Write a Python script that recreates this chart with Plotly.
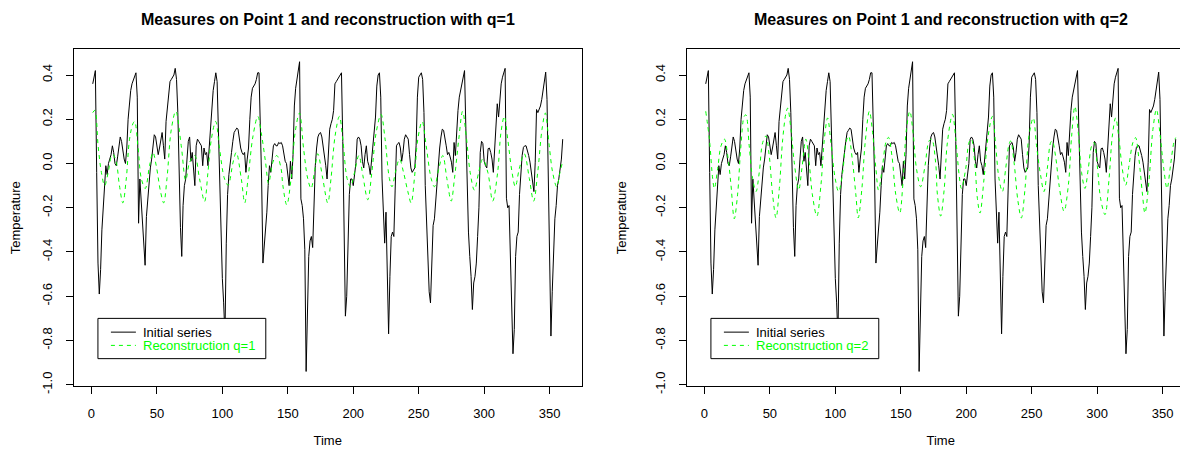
import plotly.graph_objects as go

# ---------------- data ----------------
TIME = list(range(1, 361))

BLACK_Y = [
    0.36, 0.40, 0.42, -0.04, -0.45, -0.59, -0.48, -0.30, -0.20, -0.10,
    -0.01, -0.05, 0.00, 0.02, 0.04, 0.08, 0.05, 0.00, -0.01, 0.03,
    0.08, 0.12, 0.10, 0.05, 0.02, 0.00, 0.07, 0.20, 0.29, 0.33,
    0.36, 0.38, 0.39, 0.41, 0.30, -0.27, -0.07, -0.18, -0.29, -0.36,
    -0.46, -0.24, -0.16, -0.07, -0.02, 0.02, 0.07, 0.13, 0.12, 0.08,
    0.04, 0.07, 0.11, 0.14, 0.08, 0.02, 0.19, 0.25, 0.32, 0.37,
    0.38, 0.39, 0.40, 0.43, 0.38, 0.23, -0.10, -0.29, -0.42, -0.19,
    -0.10, -0.07, 0.02, 0.10, 0.12, 0.01, 0.05, -0.01, -0.10, 0.08,
    0.11, 0.10, 0.09, 0.08, -0.01, 0.07, 0.04, 0.05, -0.01, 0.08,
    0.19, 0.27, 0.33, 0.37, 0.41, 0.37, 0.15, -0.19, -0.42, -0.52,
    -0.63, -0.78, -0.36, -0.14, -0.05, -0.01, 0.05, 0.10, 0.14, 0.15,
    0.16, 0.155, 0.11, 0.07, 0.05, 0.04, 0.05, -0.04, 0.02, 0.07,
    0.20, 0.30, 0.34, 0.35, 0.36, 0.38, 0.41, 0.41, 0.20, -0.07,
    -0.45, -0.38, -0.30, -0.22, -0.10, -0.01, -0.04, 0.03, 0.08, 0.09,
    0.08, 0.08, 0.095, 0.09, 0.095, 0.08, 0.04, 0.01, 0.00, -0.04,
    -0.10, 0.01, -0.07, 0.04, 0.26, 0.34, 0.38, 0.41, 0.46, -0.16,
    -0.19, -0.25, -0.39, -0.94, -0.73, -0.42, -0.35, -0.33, -0.38, -0.14,
    -0.01, 0.07, 0.12, 0.135, 0.14, 0.12, 0.08, 0.02, -0.01, -0.07,
    0.05, 0.155, 0.18, 0.20, 0.24, 0.36, 0.37, 0.38, 0.39, 0.40,
    0.41, 0.10, -0.44, -0.69, -0.60, -0.39, -0.14, -0.07, -0.07, -0.10,
    -0.06, 0.00, 0.11, 0.12, 0.11, 0.08, 0.01, -0.02, 0.04, 0.08,
    0.01, -0.01, -0.05, 0.02, 0.095, 0.15, 0.21, 0.35, 0.40, 0.41,
    0.30, -0.07, -0.20, -0.36, -0.22, -0.45, -0.77, -0.51, -0.33, -0.31,
    -0.33, -0.12, 0.08, 0.09, 0.095, 0.07, 0.01, 0.05, 0.11, 0.13,
    0.12, 0.11, 0.04, -0.02, -0.04, -0.03, -0.02, 0.08, 0.30, 0.39,
    0.40, 0.41, 0.38, 0.23, -0.10, -0.25, -0.45, -0.58, -0.63, -0.40,
    -0.28, -0.25, -0.16, -0.06, 0.01, 0.07, 0.12, 0.155, 0.15, 0.12,
    0.08, 0.04, 0.05, 0.03, 0.006, -0.04, 0.095, 0.036, 0.155, 0.24,
    0.30, 0.33, 0.37, 0.40, 0.42, 0.16, -0.14, -0.31, -0.42, -0.51,
    -0.66, -0.54, -0.51, -0.45, -0.33, -0.20, 0.05, 0.10, 0.09, 0.01,
    -0.01, -0.02, 0.067, 0.07, 0.05, 0.02, -0.04, 0.05, 0.155, 0.27,
    0.21, 0.30, 0.36, 0.39, 0.41, 0.43, -0.157, -0.20, -0.19, -0.44,
    -0.66, -0.86, -0.75, -0.42, -0.33, -0.31, -0.14, -0.04, 0.036, 0.073,
    0.08, 0.08, 0.06, 0.036, 0.006, -0.04, -0.10, -0.127, 0.006, 0.244,
    0.23, 0.244, 0.26, 0.29, 0.33, 0.376, 0.413, 0.29, -0.07, -0.51,
    -0.78, -0.58, -0.39, -0.25, -0.19, -0.10, -0.07, -0.02, 0.02, 0.11,
]

Q1_T = [1.0, 2.6, 5.1, 7.6, 10.1, 12.8, 15.4, 16.6, 19.0, 21.4, 24.0, 26.6, 29.1, 31.7, 33.0,
        35.5, 38.1, 41.1, 44.4, 47.0, 49.5, 52.8, 55.2, 57.7, 61.0, 64.4, 68.6, 72.0, 75.0,
        78.8, 82.6, 86.4, 89.0, 91.6, 94.9, 97.9, 101.7, 104.4, 108.2, 110.6, 114.5, 117.1,
        119.6, 123.4, 127.1, 129.7, 133.0, 135.3, 138.6, 141.6, 144.9, 146.2, 149.2, 152.5,
        155.6, 158.9, 162.1, 165.2, 167.8, 170.3, 172.9, 176.7, 180.5, 183.0, 186.1, 189.4,
        192.0, 195.3, 197.9, 201.0, 204.3, 207.3, 211.1, 214.2, 217.5, 221.2, 224.3, 227.6,
        229.6, 232.2, 235.3, 238.4, 241.7, 244.2, 246.7, 249.3, 252.6, 255.7, 259.5, 262.0,
        265.3, 268.4, 271.5, 274.8, 277.3, 280.6, 283.5, 286.3, 289.3, 292.5, 295.8, 298.9,
        302.8, 306.5, 310.3, 312.8, 315.4, 318.0, 321.3, 323.8, 326.8, 330.6, 334.5, 337.8,
        340.9, 344.2, 346.7, 349.7, 352.3, 355.4, 357.9, 360.0]
Q1_Y = [0.23, 0.24, 0.08, -0.04, -0.10, -0.04, 0.036, 0.04, 0.006, -0.10, -0.178, -0.07, 0.11, 0.18, 0.19,
        0.08, -0.068, -0.113, -0.01, 0.05, -0.01, -0.127, -0.178, -0.068, 0.154, 0.236, 0.08, -0.076, 0.006,
        0.036, -0.07, -0.172, -0.04, 0.11, 0.19, 0.065, -0.07, -0.098, 0.006, 0.05, -0.07, -0.178,
        -0.07, 0.124, 0.213, 0.139, 0.006, -0.09, 0.006, 0.036, -0.024, -0.098, -0.187, -0.068,
        0.14, 0.228, 0.065, -0.068, -0.113, -0.04, 0.044, -0.068, -0.178, -0.068, 0.124, 0.213,
        0.11, -0.068, -0.105, -0.04, 0.036, -0.053, -0.164, -0.04, 0.14, 0.222, 0.11, -0.068,
        -0.105, -0.04, 0.02, -0.04, -0.127, -0.178, -0.068, 0.11, 0.19, 0.08, -0.068, -0.105,
        -0.024, 0.036, -0.068, -0.17, -0.068, 0.11, 0.236, 0.124, -0.04, -0.12, -0.04, 0.02,
        -0.04, -0.17, -0.04, 0.139, 0.213, 0.11, -0.04, -0.105, -0.024, 0.044, -0.068, -0.17,
        -0.04, 0.155, 0.228, 0.08, -0.04, -0.105, -0.04, 0.01]

Q2_T = [1.0, 3.8, 6.3, 7.6, 10.1, 12.7, 15.3, 17.8, 20.3, 22.8, 25.3, 27.9, 30.4, 31.7, 34.2,
        36.8, 39.4, 41.9, 44.5, 47.0, 49.5, 52.1, 54.7, 57.2, 59.8, 62.3, 63.6, 66.1, 68.6,
        72.0, 74.5, 77.5, 80.0, 82.5, 85.9, 89.0, 91.6, 94.1, 96.6, 99.9, 102.5, 105.6, 108.1,
        110.1, 113.2, 115.7, 117.5, 120.3, 122.8, 126.0, 128.5, 131.0, 133.0, 136.1, 138.6,
        140.6, 143.2, 146.2, 149.2, 151.7, 154.3, 156.9, 159.4, 162.0, 165.2, 168.5, 171.6,
        173.6, 176.6, 178.0, 180.5, 183.1, 185.6, 189.5, 192.0, 194.6, 196.3, 199.6, 202.1,
        203.9, 206.5, 208.5, 210.5, 213.6, 216.7, 220.0, 222.5, 225.0, 227.6, 230.1, 232.7,
        234.0, 236.5, 239.5, 242.1, 244.9, 247.9, 251.2, 253.7, 256.8, 259.4, 261.9, 264.5,
        265.7, 268.3, 270.9, 274.7, 278.0, 280.5, 283.0, 285.6, 288.1, 290.7, 293.2, 295.8,
        297.6, 300.1, 302.6, 306.0, 309.1, 311.6, 314.1, 316.7, 319.2, 321.8, 324.3, 327.3,
        329.3, 331.9, 334.4, 336.5, 339.5, 342.6, 345.3, 347.9, 350.9, 353.4, 356.0, 358.6, 360.0]
Q2_Y = [0.236, 0.11, -0.068, -0.113, -0.024, 0.08, 0.11, 0.036, -0.098, -0.25, -0.142, 0.08, 0.213, 0.22, 0.08,
        -0.068, -0.127, -0.04, 0.095, 0.124, 0.036, -0.142, -0.246, -0.113, 0.11, 0.228, 0.25, 0.154, 0.006,
        -0.12, -0.02, 0.11, 0.006, -0.142, -0.238, -0.098, 0.11, 0.206, 0.095, -0.068, -0.127, -0.04, 0.095,
        0.124, 0.006, -0.142, -0.246, -0.113, 0.095, 0.236, 0.139, -0.024, -0.12, -0.01, 0.095,
        0.118, 0.036, -0.142, -0.224, -0.083, 0.154, 0.236, 0.139, -0.024, -0.105, -0.01, 0.102,
        0.11, 0.006, -0.142, -0.238, -0.12, 0.095, 0.222, 0.11, -0.053, -0.113, -0.024, 0.095,
        0.11, 0.006, -0.157, -0.224, -0.068, 0.124, 0.213, 0.08, -0.068, -0.127, -0.024, 0.087,
        0.102, 0.006, -0.17, -0.246, -0.113, 0.124, 0.206, 0.08, -0.053, -0.127, -0.024, 0.095,
        0.102, 0.03, -0.098, -0.216, -0.098, 0.124, 0.258, 0.139, -0.04, -0.113, -0.024, 0.08,
        0.095, -0.01, -0.157, -0.231, -0.068, 0.124, 0.206, 0.11, -0.024, -0.098, -0.01, 0.095,
        0.117, 0.02, -0.127, -0.224, -0.083, 0.154, 0.244, 0.139, -0.024, -0.113, -0.01, 0.095, 0.117]

X_TICKS = [0, 50, 100, 150, 200, 250, 300, 350]
Y_TICKS = [-1.0, -0.8, -0.6, -0.4, -0.2, 0.0, 0.2, 0.4]
Y_TICK_TEXT = ["-1.0", "-0.8", "-0.6", "-0.4", "-0.2", "0.0", "0.2", "0.4"]
TITLES = ["Measures on Point 1 and reconstruction with q=1",
          "Measures on Point 1 and reconstruction with q=2"]
BLACK_NAME = "Initial series"
GREEN_NAMES = ["Reconstruction q=1", "Reconstruction q=2"]

# ---------------- layout ----------------
W, H = 1188, 450
FONT = "Liberation Sans, Arial, Helvetica, sans-serif"
PANEL_LEFT = [66, 679.5]
PANEL_W = 508
TOP, BOTTOM = 42, 385
GREEN = "#00ff00"


def px(xp):
    return xp / W


def py(yp):
    return 1 - yp / H


fig = go.Figure()
greens = [(Q1_T, Q1_Y), (Q2_T, Q2_Y)]
shapes = []
for i in range(2):
    sfx = "" if i == 0 else "2"
    fig.add_trace(go.Scatter(
        x=TIME, y=BLACK_Y, mode="lines", name=BLACK_NAME,
        line=dict(color="black", width=1),
        xaxis="x" + sfx, yaxis="y" + sfx, showlegend=False, hoverinfo="skip"))
    fig.add_trace(go.Scatter(
        x=greens[i][0], y=greens[i][1], mode="lines", name=GREEN_NAMES[i],
        line=dict(color=GREEN, width=1, dash="4px,4px", shape="spline"),
        xaxis="x" + sfx, yaxis="y" + sfx, showlegend=False, hoverinfo="skip"))

    axis_common = dict(showline=True, mirror=True, linecolor="black", linewidth=1,
                       showgrid=False, zeroline=False, ticks="outside", ticklen=7,
                       tickcolor="black", tickwidth=1,
                       tickfont=dict(family=FONT, size=13, color="black"))
    xdom = [px(PANEL_LEFT[i]), px(PANEL_LEFT[i] + PANEL_W)]
    ydom = [py(BOTTOM), py(TOP)]
    fig.layout["xaxis" + sfx] = dict(
        domain=xdom, range=[-13.36, 374.36], tickmode="array", tickvals=X_TICKS,
        anchor="y" + sfx, ticklabelstandoff=8,
        title=dict(text="Time", font=dict(family=FONT, size=13, color="black"), standoff=16),
        **axis_common)
    fig.layout["yaxis" + sfx] = dict(
        domain=ydom, range=[-1.0064, 0.5164], tickmode="array", tickvals=Y_TICKS,
        ticktext=Y_TICK_TEXT, tickangle=-90, anchor="x" + sfx, ticklabelstandoff=9,
        title=dict(text="Temperature", font=dict(family=FONT, size=13, color="black"), standoff=23),
        **axis_common)

    fig.add_annotation(
        text="<b>" + TITLES[i] + "</b>", xref="paper", yref="paper",
        x=px(PANEL_LEFT[i] + PANEL_W / 2), y=py(12),
        xanchor="center", yanchor="middle", showarrow=False,
        font=dict(family=FONT, size=16, color="black"))

    # legend box (drawn like R's legend())
    off = PANEL_LEFT[i] - 66
    shapes.append(dict(type="rect", xref="paper", yref="paper",
                       x0=px(90 + off), x1=px(258 + off), y0=py(357), y1=py(316),
                       line=dict(color="black", width=1), fillcolor="white", layer="above"))
    shapes.append(dict(type="line", xref="paper", yref="paper",
                       x0=px(103 + off), x1=px(128 + off), y0=py(330), y1=py(330),
                       line=dict(color="black", width=1), layer="above"))
    shapes.append(dict(type="line", xref="paper", yref="paper",
                       x0=px(103 + off), x1=px(128 + off), y0=py(343.5), y1=py(343.5),
                       line=dict(color=GREEN, width=1, dash="4px,4px"), layer="above"))
    fig.add_annotation(text=BLACK_NAME, xref="paper", yref="paper",
                       x=px(134 + off), y=py(330), xanchor="left", yanchor="middle",
                       showarrow=False, borderpad=0, font=dict(family=FONT, size=13, color="black"))
    fig.add_annotation(text=GREEN_NAMES[i], xref="paper", yref="paper",
                       x=px(134 + off), y=py(344), xanchor="left", yanchor="middle",
                       showarrow=False, borderpad=0, font=dict(family=FONT, size=13, color=GREEN))

fig.update_layout(
    width=W, height=H, margin=dict(l=0, r=0, t=0, b=0),
    paper_bgcolor="white", plot_bgcolor="white", showlegend=False,
    shapes=shapes,
    font=dict(family=FONT, size=13, color="black"))

fig.write_html("out.html")
